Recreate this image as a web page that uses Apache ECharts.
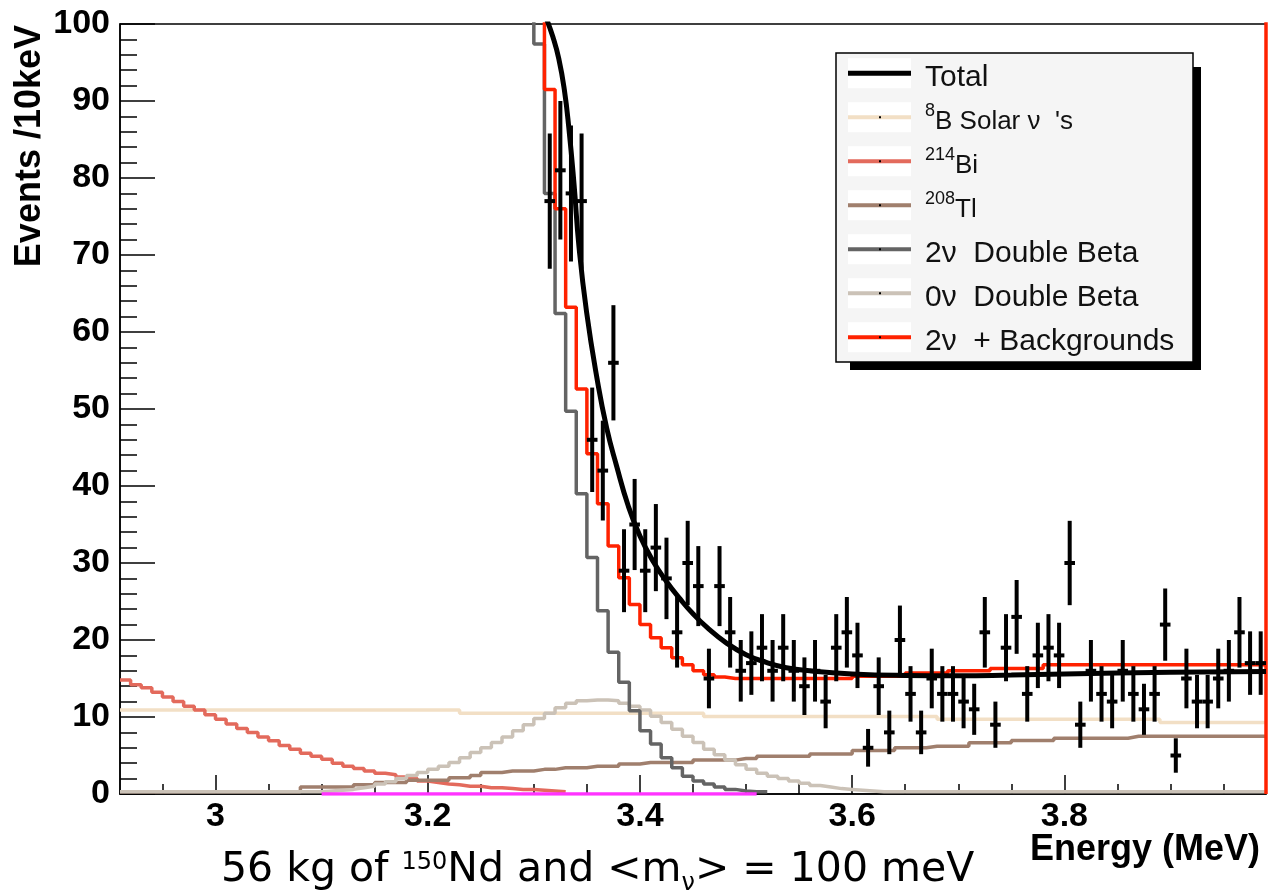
<!DOCTYPE html>
<html><head><meta charset="utf-8">
<script src="https://cdn.jsdelivr.net/npm/echarts@6/dist/echarts.min.js"></script>
<style>html,body{margin:0;padding:0;background:#fff;}#c{width:1268px;height:894px;}</style>
</head><body><div id="c"></div>
<script>
// ---- binning / axis definitions ----
const binStart = 2.91;
const binWidth = 0.01;
const xMin = 2.91, xMax = 3.99;
const majorTicks = [3.0, 3.2, 3.4, 3.6, 3.8];
const minorTicks = [2.95, 3.05, 3.10, 3.15, 3.25, 3.30, 3.35, 3.45, 3.50, 3.55, 3.65, 3.70, 3.75, 3.85, 3.90, 3.95];

// ---- histogram contents (events / 10 keV), first bin index noted ----
const solarStart = 0;
const solarVals = [10.9,10.9,10.9,10.9,10.9,10.9,10.9,10.9,10.9,10.9,10.9,10.9,10.9,10.9,10.9,10.9,
  10.9,10.9,10.9,10.9,10.9,10.9,10.9,10.9,10.9,10.9,10.9,10.9,10.9,10.9,10.9,10.9,
  10.5,10.5,10.5,10.5,10.5,10.5,10.5,10.5,10.5,10.5,10.5,10.5,10.5,10.5,10.5,10.5,10.5,10.5,10.5,10.5,10.5,10.5,10.5,
  10.05,10.05,10.05,10.05,10.05,10.05,10.05,10.05,10.05,10.05,10.05,10.05,10.05,10.05,10.05,10.05,10.05,10.05,10.05,10.05,10.05,10.05,
  9.7,9.7,9.7,9.7,9.7,9.7,9.7,9.7,9.7,9.7,9.7,9.7,9.7,9.7,9.7,9.7,9.7,9.7,9.7,9.7,9.7,
  9.3,9.3,9.3,9.3,9.3,9.3,9.3,9.3,9.3,9.3];

const biStart = 0;
const biVals = [14.8,14.2,13.8,13.2,12.6,12.0,11.4,10.9,10.3,9.7,9.1,8.5,8.0,7.4,6.9,6.3,5.8,5.3,4.9,4.5,
  4.0,3.6,3.3,3.0,2.7,2.5,2.2,2.0,1.7,1.5,1.3,1.2,1.0,1.0,0.8,0.8,0.7,0.6,0.6,0.5,0.4,0.3];

const tlStart = 0;
const tlVals = [0.3,0.3,0.3,0.3,0.3,0.3,0.3,0.3,0.3,0.3,0.3,0.3,0.3,0.3,0.3,0.3,0.3,
  0.9,0.9,0.9,0.9,0.9, 1.2,1.2, 1.5,1.5,1.5, 1.8,1.8,1.8,1.8, 2.1,2.1, 2.4, 2.8,2.8, 3.0,3.0,3.0,
  3.2,3.2, 3.4,3.4,3.4, 3.6,3.6,3.6, 3.9,3.9, 4.1,4.1,4.1,4.1,4.1, 4.4,4.4,4.4,4.4, 4.6,4.6,
  4.9,4.9,4.9,4.9,4.9, 5.2,5.2,5.2,5.2, 5.65,5.65,5.65,5.65, 6.0,6.0,6.0, 6.2,6.2,6.2,6.2,
  6.65,6.65,6.65,6.65, 6.95,6.95,6.95,6.95, 7.25,7.25,7.25,7.25,7.25,7.25,7.25,
  7.5,7.5,7.5,7.5,7.5,7.5,7.5,7.5,7.5,7.5,7.5,7.5,7.5];

const nu2Start = 38;
const nu2Vals = [130,97.4,78.0,62.4,49.7,39.0,30.7,23.8,18.4,14.5,10.8,8.2,6.5,4.7,3.4,2.3,1.7,1.3,0.9,0.6,0.4,0.3,0.3];

const nu0Start = 0;
const nu0Vals = [0.3,0.3,0.3,0.3,0.3,0.3,0.3,0.3,0.3,0.3,0.3,0.3,0.3,0.3,0.3,0.3,0.3,0.3,0.3,
  0.4,0.5,0.6,0.8,1.0,1.3,1.6,2.0,2.4,2.8,3.2,3.6,4.1,4.7,5.4,6.0,6.7,7.4,8.2,9.0,9.8,10.5,11.2,11.8,
  12.1,12.2,12.2,12.1,11.8,11.4,10.9,10.1,9.3,8.4,7.5,6.7,5.8,5.1,4.4,3.8,3.2,2.7,2.3,2.0,1.7,1.4,1.1,
  0.9,0.7,0.6,0.5,0.4,
  0.3,0.3,0.3,0.3,0.3,0.3,0.3,0.3,0.3,0.3,0.3,0.3,0.3,0.3,0.3,0.3,0.3,0.3,0.3,0.3,0.3,0.3,0.3,0.3,0.3,
  0.3,0.3,0.3,0.3,0.3,0.3,0.3,0.3,0.3,0.3,0.3,0.3];

const sumStart = 38;
const sumVals = [140,110,91.5,76,63.2,52.6,44.2,37.7,32.2,28.1,24.6,22.0,20.3,19.0,17.7,16.8,16.0,15.5,15.2,
  15.0,15.0,15.0,15.0,15.0,15.0,15.0,15.0,15.0,15.0,15.0,15.0,
  15.3,15.3,15.3,15.3,15.3, 15.7,15.7,15.7,15.7, 16.0,16.0,16.0,16.0, 16.3,16.3,16.3,16.3,16.3,
  16.8,16.8,16.8,16.8,16.8,16.8,16.8,16.8,16.8,16.8,16.8,16.8,16.8,16.8,16.8,16.8,16.8,16.8,16.8,16.8,16.8];
// the summed histogram's edge at the upper end of the range runs the full height of the frame
const sumEdgeLevels = [0, 140];

const pinkStart = 19;
const pinkVals = [0,0,0,0,0,0,0,0,0,0,0,0,0,0,0,0,0,0,0,0,0,0,0,0,0,0,0,0,0,0,0,0,0,0,0,0,0,0,0,0,0];

// ---- measured data points (counts per bin) ----
const dataStart = 40;
const dataCounts = [77,81,78,77,46,42,56,29,35,29,32,28,21,30,27,15,27,21,16,17,19,16,19,16,14,16,12,19,21,18,
  6,14,8,20,13,8,15,13,13,12,11,21,9,19,23,13,18,19,18,30,9,16,13,12,16,13,11,13,22,5,15,12,12,15,16,21,17,17];

// ---- fitted total curve ----
const totalE = [3.311,3.318,3.3235,3.3287,3.333,3.338,3.3426,3.3498,3.3595,3.3687,3.378,3.389,3.400,3.4125,3.425,3.438,
  3.450,3.4627,3.4816,3.500,3.519,3.538,3.560,3.600,3.650,3.700,3.750,3.800,3.900,3.990];
const totalV = [101,98.3,95.5,91.5,86.5,79,71,62.5,54,47.5,42.6,37.4,33.5,30.2,27.6,25.3,
  23.4,21.7,19.6,18.1,17.1,16.4,16.0,15.6,15.4,15.35,15.45,15.6,15.8,15.9];

const names = ['Total', '8B Solar ν \'s', '214Bi', '208Tl', '2ν Double Beta', '0ν Double Beta', '2ν + Backgrounds'];
const legendText = {
  'Total': '{t|Total}',
  '8B Solar ν \'s': '{s|8}{u|B Solar ν  \'s}',
  '214Bi': '{s|214}{u|Bi}',
  '208Tl': '{s|208}{u|Tl}',
  '2ν Double Beta': '{t|2ν  Double Beta}',
  '0ν Double Beta': '{t|0ν  Double Beta}',
  '2ν + Backgrounds': '{t|2ν  + Backgrounds}'
};
// legend sample: a line inside a 63x44 cell (invisible corner points keep the cell size)
const iconThin = 'path://M0,0L0,0M0,15.5H63V19.5H0ZM63,44L63,44';
const iconThick = 'path://M0,0L0,0M0,15H63V20H0ZM63,44L63,44';

function edge(k) { return +(binStart + binWidth * k).toFixed(4); }
function hist(start, vals, edgeLevels) {
  const pts = vals.map((v, i) => [edge(start + i), v]);
  const end = edge(start + vals.length);
  pts.push([end, vals[vals.length - 1]]);
  (edgeLevels || []).forEach(lv => pts.push([end, lv]));
  return pts;
}
const FF = 'Liberation Sans, Arial, Helvetica, sans-serif';
function histSeries(name, start, vals, color, z, edgeLevels) {
  return {
    name: name, type: 'line', step: 'end', data: hist(start, vals, edgeLevels),
    symbol: 'none', showSymbol: false, z: z, clip: true,
    lineStyle: { color: color, width: 3.5 }, itemStyle: { color: color },
    emphasis: { disabled: true }, silent: true
  };
}

const chart = echarts.init(document.getElementById('c'), null, { renderer: 'canvas' });

const legendRows = [0, 1, 2, 3, 4, 5, 6];
const graphics = [
  { type: 'rect', shape: { x: 850, y: 67, width: 351, height: 303 }, style: { fill: '#000' }, z: 0, silent: true },
  { type: 'rect', shape: { x: 836, y: 53, width: 357, height: 309 }, style: { fill: '#f5f5f5', stroke: '#000', lineWidth: 1.5 }, z: 1, silent: true }
].concat(legendRows.map(i => ({
  type: 'rect', shape: { x: 848, y: 58.3 + 44 * i, width: 63, height: 30 }, style: { fill: '#fff' }, z: 2, silent: true
}))).concat(legendRows.slice(1).map(i => ({
  type: 'rect', shape: { x: 879, y: 72.3 + 44 * i, width: 2, height: 2 }, style: { fill: '#000' }, z: 20, silent: true
})));

const option = {
  animation: false,
  backgroundColor: '#fff',
  title: {
    left: 221, top: 850, padding: 0,
    text: '{m|56 kg of }{sp|150}{m|Nd and <m}{sb|ν}{m|> = 100 meV}',
    textStyle: {
      fontWeight: 'normal',
      rich: {
        m: { fontFamily: 'DejaVu Sans', fontWeight: 'normal', fontSize: 41, lineHeight: 46, padding: [0, 0, 6, 0], verticalAlign: 'top', color: '#000' },
        sp: { fontFamily: 'DejaVu Sans', fontWeight: 'normal', fontSize: 24, lineHeight: 24, padding: [1, 0, 0, 0], verticalAlign: 'top', color: '#000' },
        sb: { fontFamily: 'DejaVu Sans', fontWeight: 'normal', fontSize: 24, lineHeight: 24, verticalAlign: 'bottom', color: '#000' }
      }
    }
  },
  graphic: { elements: graphics },
  legend: {
    orient: 'vertical', left: 848, top: 55.8, padding: 0, itemGap: 0,
    itemWidth: 63, itemHeight: 44, selectedMode: false, z: 10, symbolKeepAspect: false,
    itemStyle: { borderWidth: 0 },
    data: names.map((n, i) => ({ name: n, icon: i === 0 ? iconThick : iconThin })),
    formatter: n => legendText[n],
    textStyle: {
      fontFamily: FF, color: '#111',
      rich: {
        t: { fontFamily: FF, fontSize: 30, lineHeight: 34, padding: [0, 0, 0, 9], color: '#111' },
        u: { fontFamily: FF, fontSize: 26, lineHeight: 40, color: '#111' },
        s: { fontFamily: FF, fontSize: 18, lineHeight: 18, verticalAlign: 'top', padding: [0, 0, 0, 9], color: '#111' }
      }
    }
  },
  grid: {
    left: 120, right: 2, top: 24, bottom: 100, containLabel: false, outerBoundsMode: 'none',
    show: true, borderColor: '#000', borderWidth: 1.5, backgroundColor: 'transparent'
  },
  xAxis: [{
    type: 'value', min: xMin, max: xMax, position: 'bottom',
    axisLine: { show: true, lineStyle: { color: '#000', width: 1.5 } },
    axisTick: { show: true, inside: true, length: 19, customValues: majorTicks, lineStyle: { color: '#000', width: 1.5 } },
    axisLabel: { customValues: majorTicks, fontFamily: FF, fontSize: 34, fontWeight: 'bold', color: '#000', margin: 6 },
    splitLine: { show: false },
    name: 'Energy (MeV)', nameLocation: 'end', nameGap: -6, nameMoveOverlap: false,
    nameTextStyle: { fontFamily: FF, fontSize: 36, fontWeight: 'bold', color: '#000', align: 'right', verticalAlign: 'top', padding: [38, 0, 0, 0] }
  }, {
    type: 'value', min: xMin, max: xMax, position: 'bottom',
    axisLine: { show: false },
    axisTick: { show: true, inside: true, length: 10, customValues: minorTicks, lineStyle: { color: '#000', width: 1.5 } },
    axisLabel: { show: false },
    splitLine: { show: false }
  }],
  yAxis: {
    type: 'value', min: 0, max: 100, interval: 10,
    axisLine: { show: true, lineStyle: { color: '#000', width: 1.5 } },
    axisTick: { show: true, inside: true, length: 35, lineStyle: { color: '#000', width: 1.5 } },
    minorTick: { show: true, splitNumber: 5, length: 17, lineStyle: { color: '#000', width: 1.5 } },
    axisLabel: { fontFamily: FF, fontSize: 34, fontWeight: 'bold', color: '#000', margin: 10 },
    splitLine: { show: false }, minorSplitLine: { show: false },
    name: 'Events /10keV', nameLocation: 'end', nameGap: -1, nameRotate: 90, nameMoveOverlap: false,
    nameTextStyle: { fontFamily: FF, fontSize: 36, fontWeight: 'bold', color: '#000', align: 'right', verticalAlign: 'bottom', padding: [0, 0, 72, 0] }
  },
  series: [
    histSeries(names[1], solarStart, solarVals, '#f2dfc5', 2),
    histSeries(names[2], biStart, biVals, '#e36a5c', 3),
    histSeries(names[3], tlStart, tlVals, '#a07f6d', 3),
    histSeries(names[5], nu0Start, nu0Vals, '#cbc2b7', 4),
    histSeries(names[4], nu2Start, nu2Vals, '#646464', 5),
    histSeries('pink', pinkStart, pinkVals, '#ff33ff', 6),
    histSeries(names[6], sumStart, sumVals, '#ff2200', 7, sumEdgeLevels),
    {
      name: 'data', type: 'custom', z: 8, clip: true, silent: true,
      data: dataCounts.map((n, i) => [edge(dataStart + i) + binWidth / 2, n, Math.sqrt(n)]),
      renderItem: function (params, api) {
        const x = api.value(0), y = api.value(1), e = api.value(2);
        const p = api.coord([x, y]);
        const lo = api.coord([x, y - e]);
        const hi = api.coord([x, y + e]);
        const l = api.coord([x - binWidth / 2, y]);
        const r = api.coord([x + binWidth / 2, y]);
        return {
          type: 'group', children: [
            { type: 'line', shape: { x1: p[0], y1: lo[1], x2: p[0], y2: hi[1] }, style: { stroke: '#000', lineWidth: 4 } },
            { type: 'line', shape: { x1: l[0], y1: p[1], x2: r[0], y2: p[1] }, style: { stroke: '#000', lineWidth: 4 } }
          ]
        };
      }
    },
    {
      name: names[0], type: 'line', smooth: 0.5, z: 9, clip: true,
      data: totalE.map((e, i) => [e, totalV[i]]),
      symbol: 'none', showSymbol: false,
      lineStyle: { color: '#000', width: 5 }, itemStyle: { color: '#000' }, silent: true
    }
  ]
};
chart.setOption(option);
</script></body></html>
